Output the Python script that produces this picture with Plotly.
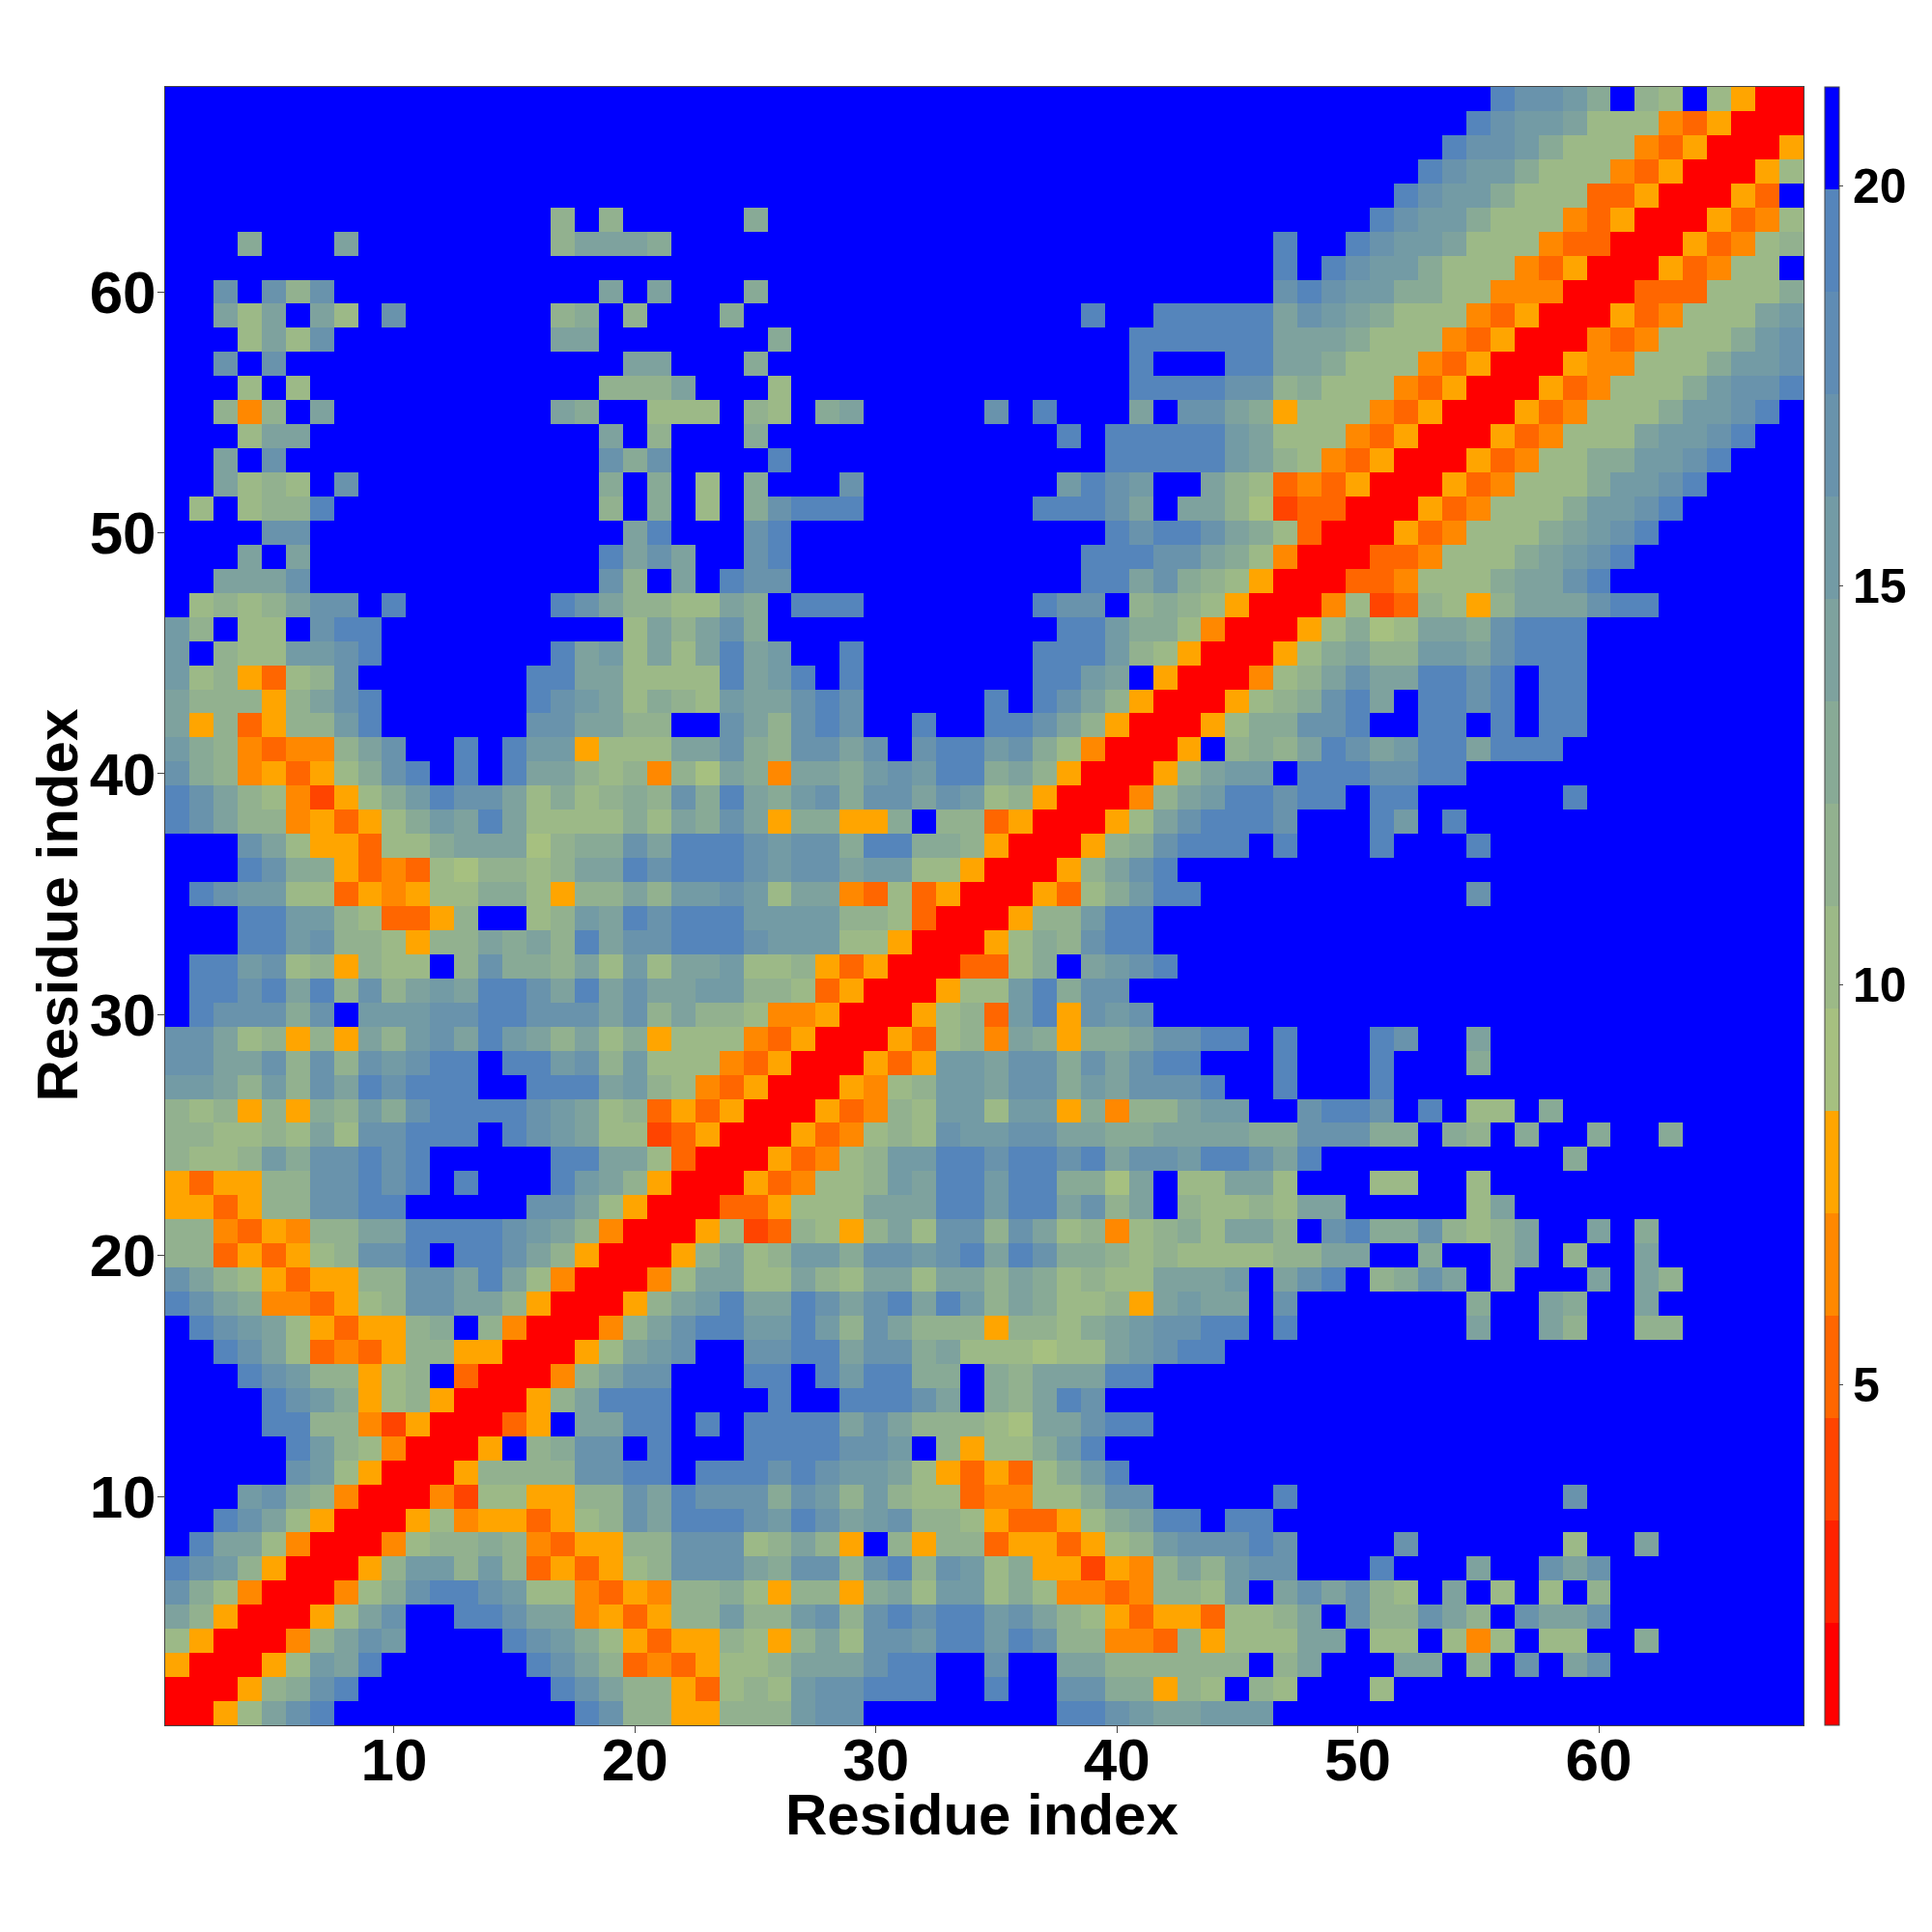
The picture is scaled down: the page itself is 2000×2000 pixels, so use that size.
import plotly.graph_objects as go

# Upper triangle of the symmetric residue-distance map, read band by band.
# One string per row; each starts on the diagonal, groups end at multiples of 10,
# and trailing cells not written are the top (blue) band.
ROWS = [
 "0057acefff fffffffec8 855888bccf fffffffeec baabbb",
 "00589cdff ffffffeca8 853787bccd ddffdffcc9 9587f87fff 7",
 "0057badf fffffdca83 435778aaac ddffcffaa8 88888f8aff faaf8fcfac",
 "0048acb ffffdcb975 3558758a7c cbddbdc884 4385777aaf 77f747f77f f9",
 "0057ac ffddcaa453 588b88bc8c dcddbca875 3553778afc 88ca8fcaac",
 "00479 cddcb77435 4889758859 a7bb797443 4887bfacac 87faf7f7f8",
 "0058 bb8b835357 8ccca9cc8c d8cb795525 48a8bccfff dfffaffcac",
 "004 7889843558 8ccc78a85f 8588355357 8bcccdcfff fcffffff7f fa",
 "00 574553578c adddcbdcab c887533579 addfdd",
 "0 042775588c adccc9cb8b 877344779c cfffffdfff ffffffffc",
 "0058888ccd dfdddcdcbb a7535379bd",
 "005f89ccf dfffddddcc bf85779bd",
 "0035faad dfdfddddac a88876aacd d",
 "0058add dffffdffdd dcaf98adc",
 "0048ac cfffddfdbd d99f98aaad d",
 "0057a bcffccddac c9a777677a bcdd",
 "0048 acddbbdb8c a88858879a bccddfdfff ffffaffa8f f88",
 "005 8abdaadcac dadb8a9778 5abaafcfff ffff9ffa9f fa",
 "00 47aa77a87a a7aa8a9787 7aaabfacdf 89caf8fffa fa8",
 "0 058a78bb9c cbcdadc998 78777788aa ff9ff8af8f fa",
 "0057238758 a7cc8ca784 7897aa8fcd 99c878affa f9",
 "00335777a aaddbddac8 af87787aaf ffff7a",
 "00534778 baddbdd996 af77aa7fff 77ff7",
 "0053478 bbddcddcda ccbddcadff ffffffff9",
 "005347 87cbbccaa9 9aaaa99ccc 99f98f9ff9 ff9",
 "00534 87bb7bb594 88abbffcdd cfdf77f9",
 "0054 78bbacc9ba cccdffdfff d",
 "005 35bbacc9ca cddfffdfff dfff9",
 "00 53784a9599 accddfdfff dcffa",
 "0 05783bd5cb c",
 "00577bd9cc",
 "003379fab cd",
 "005798cd d",
 "00588bd d",
 "005379 bddfffffff ffffc",
 "0058a cd",
 "0058 9cdddfdfff dfffd",
 "005 7acdddcfff dbfd",
 "00 48abddcddf ddffffffd",
 "0 058abbfddd ccdd",
 "005f898adc abddaddd",
 "005799ccd ffddfdfdd",
 "005789cd afddcdfdd",
 "00478ac aaddcdfdd",
 "00579a 88bbacddd",
 "00579 67aa9cddd",
 "0047 238758aaac dd",
 "003 347779aacd",
 "00 3347779abc d",
 "0 05347779ab cd",
 "005347779b bcd",
 "005347779 bbcd",
 "00534779 9bbcd",
 "0053477 7abbcd",
 "005347 779bbcdf",
 "00534 7779bccd",
 "0054 47779bbc",
 "004 3477 79bc",
 "00 534777ab",
 "0 03337779",
 "0053477f",
 "0053478",
 "005347",
 "0053f",
 "0057",
 "005",
 "00",
 "0",
]

# Distance (Angstrom) represented by each code.
CODES = "0123456789abcdef"
DISTANCES = [1.38, 2.66, 3.94, 5.22, 6.50, 7.78, 9.06, 10.34, 11.62, 12.90,
             14.18, 15.46, 16.74, 19.30, 19.30, 20.60]

BAND_COLORS = ["#ff0000", "#ff2200", "#ff4400", "#ff6600", "#ff8800", "#ffa500",
               "#a6c080", "#9cb987", "#92b18f", "#88aa96", "#7ea29e", "#739ba5",
               "#6993ac", "#5f8cb4", "#5585bb", "#0000ff"]
RESIDUES = list(range(1, 69))
TICKS = [10, 20, 30, 40, 50, 60]
BAR_TICKS = [5, 10, 15, 20]
Z_MIN, Z_MAX = 0.74, 21.24
AXIS_LABEL = "Residue index"

n = len(RESIDUES)
matrix = [[DISTANCES[15]] * n for _ in range(n)]
for r, row in enumerate(ROWS):
    cells = row.replace(" ", "")
    if len(cells) > n - r:
        raise ValueError(f"row {r + 1} too long: {len(cells)}")
    for k, ch in enumerate(cells):
        v = DISTANCES[CODES.index(ch)]
        matrix[r][r + k] = v
        matrix[r + k][r] = v

scale = []
for k, c in enumerate(BAND_COLORS):
    scale.append([k / 16, c])
    scale.append([(k + 1) / 16, c])

FONT = "Liberation Sans"
W, H = 1984, 1984
OFF = 8
L, R, T, B = 170.5 - OFF, 1867 - OFF, 90 - OFF, 1786 - OFF
DARK = "#444444"

fig = go.Figure(go.Heatmap(
    x=RESIDUES, y=RESIDUES, z=matrix, zmin=Z_MIN, zmax=Z_MAX, colorscale=scale,
    colorbar=dict(
        thickness=15, thicknessmode="pixels", len=1, lenmode="fraction", y=0.5,
        yanchor="middle", x=(1889 - OFF - L) / (R - L), xanchor="left", xpad=0, ypad=0,
        outlinecolor=DARK, outlinewidth=1, tickvals=BAR_TICKS, ticks="outside",
        ticklen=4, tickcolor=DARK,
        tickfont=dict(family=FONT, size=50, color="black", weight=700),
    ),
))
axis = dict(
    range=[0.5, 68.5], tickvals=TICKS, ticks="outside", ticklen=7, tickcolor=DARK,
    showline=True, linecolor=DARK, linewidth=1, mirror=True, showgrid=False, zeroline=False,
    tickfont=dict(family=FONT, size=62, color="black", weight=700),
)
title_font = dict(family=FONT, size=60, color="black", weight=700)
fig.update_layout(
    width=W, height=H, autosize=False, paper_bgcolor="white", plot_bgcolor="white",
    margin=dict(l=L, r=W - R, t=T, b=H - B),
    xaxis=dict(axis, ticklabelstandoff=-25),
    yaxis=dict(axis, ticklabelstandoff=-11),
    annotations=[
        dict(text=AXIS_LABEL, xref="paper", yref="paper", x=0.4985, xanchor="center",
             y=(B - (1878 - OFF)) / (B - T), yanchor="middle", showarrow=False, font=title_font),
        dict(text=AXIS_LABEL, xref="paper", yref="paper", y=(B - (937 - OFF)) / (B - T),
             yanchor="middle", x=(58 - OFF - L) / (R - L), xanchor="center", textangle=-90,
             showarrow=False, font=title_font),
    ],
)
fig.write_html("out.html")
